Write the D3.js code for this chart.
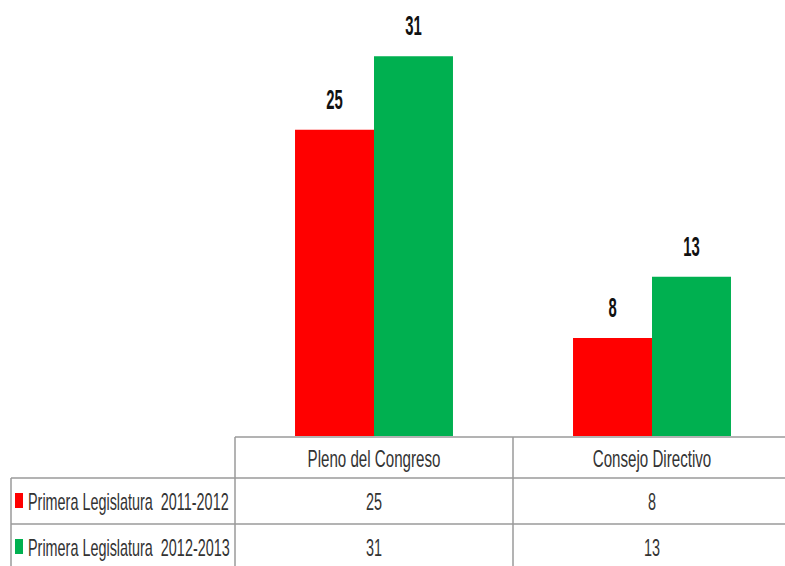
<!DOCTYPE html>
<html>
<head>
<meta charset="utf-8">
<script src="https://cdn.jsdelivr.net/npm/d3@7"></script>
<style>
  body { margin: 0; background: #fff; }
  svg { display: block; font-family: 'Liberation Sans', Arial, sans-serif; }
  svg text { white-space: pre; }
</style>
</head>
<body>
<div id="chart"></div>
<script>
const categories = ['Pleno del Congreso', 'Consejo Directivo'];
const seriesNames = ['Primera Legislatura  2011-2012', 'Primera Legislatura  2012-2013'];
const values2011 = [25, 8];
const values2012 = [31, 13];
const colors = ['#ff0000', '#00b050'];

const W = 785, H = 566;
const seriesValues = [values2011, values2012];

const svg = d3.select('#chart').append('svg')
  .attr('width', W)
  .attr('height', H);

// plot area
const baseY = 436;
const x0 = d3.scaleBand()
  .domain(categories)
  .range([235, 791]);

const x1 = d3.scaleBand()
  .domain(d3.range(seriesNames.length))
  .range([0, x0.bandwidth()])
  .paddingInner(0)
  .paddingOuter(0.76);

const y = d3.scaleLinear()
  .domain([0, 35])
  .range([baseY, baseY - 35 * 12.25]);

// squeeze text horizontally to mimic the condensed look
function squeeze(sel, k) {
  sel.each(function() {
    const len = this.getComputedTextLength();
    d3.select(this)
      .attr('textLength', len * k)
      .attr('lengthAdjust', 'spacingAndGlyphs');
  });
}

const groups = svg.selectAll('.cat')
  .data(categories)
  .enter().append('g')
  .attr('class', 'cat')
  .attr('transform', d => `translate(${x0(d)},0)`);

groups.each(function(cat, ci) {
  const g = d3.select(this);
  seriesValues.forEach((vals, si) => {
    const v = vals[ci];
    g.append('rect')
      .attr('x', x1(si))
      .attr('width', x1.bandwidth())
      .attr('y', y(v))
      .attr('height', y(0) - y(v))
      .attr('fill', colors[si]);

    g.append('text')
      .attr('x', x1(si) + x1.bandwidth() / 2)
      .attr('y', y(v) - 21)
      .attr('text-anchor', 'middle')
      .style('font-size', '27px')
      .style('font-weight', 'bold')
      .style('fill', '#111')
      .text(v)
      .call(squeeze, 0.55);
  });
});

// data table
const tableTop = 437, rowH = [41, 46, 46];
const rowY = [tableTop, tableTop + rowH[0], tableTop + rowH[0] + rowH[1]];
const leftX = 11;
const lineColor = '#9a9a9a';

const grid = svg.append('g')
  .attr('stroke', lineColor)
  .attr('stroke-width', 1.5);

grid.append('line')
  .attr('x1', x0.range()[0]).attr('x2', W)
  .attr('y1', rowY[0]).attr('y2', rowY[0]);
[rowY[1], rowY[2]].forEach(yy => {
  grid.append('line')
    .attr('x1', leftX).attr('x2', W)
    .attr('y1', yy).attr('y2', yy);
});
grid.append('line')
  .attr('x1', leftX).attr('x2', leftX)
  .attr('y1', rowY[1]).attr('y2', H);
categories.forEach(c => {
  grid.append('line')
    .attr('x1', x0(c)).attr('x2', x0(c))
    .attr('y1', rowY[0]).attr('y2', H);
});

const textColor = '#333';

// header row
svg.selectAll('.hdr')
  .data(categories)
  .enter().append('text')
  .attr('class', 'hdr')
  .attr('x', d => x0(d) + x0.bandwidth() / 2)
  .attr('y', 467)
  .attr('text-anchor', 'middle')
  .style('font-size', '24px')
  .style('fill', textColor)
  .text(d => d)
  .call(squeeze, 0.63);

const baselines = [510, 556];

seriesNames.forEach((name, si) => {
  svg.append('rect')
    .attr('x', 15)
    .attr('y', baselines[si] - 17)
    .attr('width', 8)
    .attr('height', 15)
    .attr('fill', colors[si]);

  svg.append('text')
    .attr('x', 28)
    .attr('y', baselines[si])
    .style('font-size', '24px')
    .style('fill', textColor)
    .text(name)
    .call(squeeze, 0.6);

  svg.selectAll('.val' + si)
    .data(seriesValues[si])
    .enter().append('text')
    .attr('class', 'val' + si)
    .attr('x', (d, i) => x0(categories[i]) + x0.bandwidth() / 2)
    .attr('y', baselines[si])
    .attr('text-anchor', 'middle')
    .style('font-size', '24px')
    .style('fill', textColor)
    .text(d => d)
    .call(squeeze, 0.6);
});
</script>
</body>
</html>
